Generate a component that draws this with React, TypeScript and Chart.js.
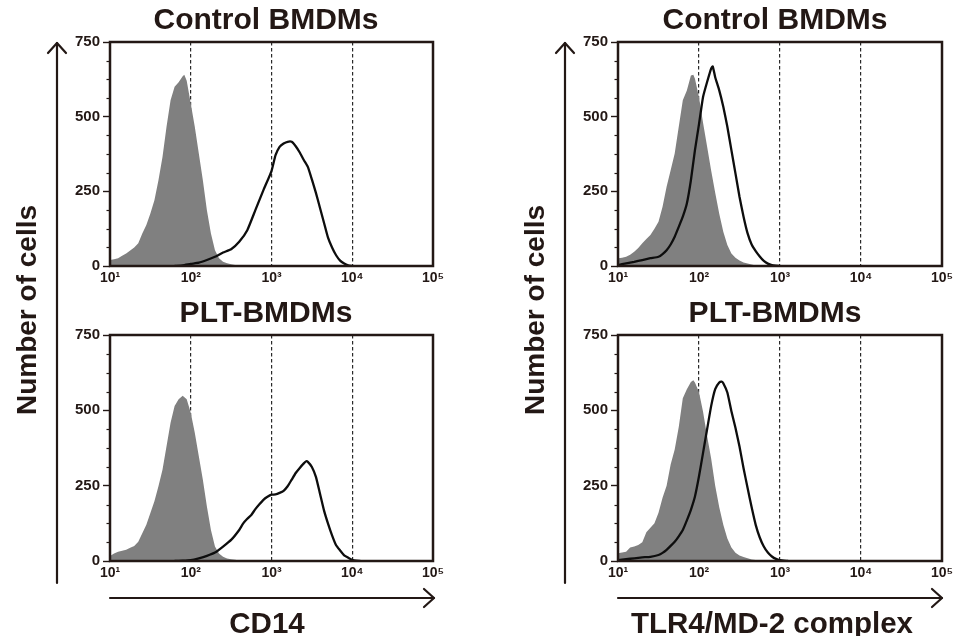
import React, { useEffect, useRef } from "react";
import { Chart, registerables } from "chart.js";

Chart.register(...registerables);

const FONT = "'Liberation Sans', Arial, Helvetica, sans-serif";
const INK = "#231815";
const GRAY = "#808080";

const panelTitles = ["Control BMDMs", "PLT-BMDMs"];
const xAxisTitles = ["CD14", "TLR4/MD-2 complex"];
const yAxisTitle = "Number of cells";

const xTickValues = [10, 100, 1000, 10000, 100000];
const xTickLabels = ["10¹", "10²", "10³", "10⁴", "10⁵"];
const guideValues = [100, 1000, 10000];
const yTickValues = [0, 250, 500, 750];
const yMinorValues = [62.5, 125, 187.5, 312.5, 375, 437.5, 562.5, 625, 687.5];

// CD14 – Control BMDMs (log10 fluorescence, cell count)
const cd14CtrlIsoLog = [1.0, 1.05, 1.1, 1.15, 1.2, 1.25, 1.3, 1.35, 1.4, 1.45, 1.5, 1.55, 1.6, 1.65, 1.7, 1.75, 1.8, 1.85, 1.9, 1.92, 1.95, 2.0, 2.05, 2.1, 2.15, 2.2, 2.25, 2.3, 2.35, 2.4, 2.45, 2.5, 2.55, 2.6, 2.65];
const cd14CtrlIsoCount = [20, 23, 26, 34, 42, 52, 62, 76, 109, 137, 176, 220, 287, 365, 466, 555, 600, 615, 635, 640, 620, 544, 466, 377, 287, 187, 109, 53, 26, 14, 9, 6, 3, 1, 0];
const cd14CtrlStainLog = [1.8, 1.9, 2.0, 2.1, 2.2, 2.3, 2.4, 2.5, 2.6, 2.7, 2.8, 2.9, 3.0, 3.05, 3.1, 3.15, 3.2, 3.25, 3.3, 3.35, 3.4, 3.45, 3.5, 3.55, 3.6, 3.65, 3.7, 3.75, 3.8, 3.85, 3.9, 3.95, 4.0];
const cd14CtrlStainCount = [0, 2, 7, 11, 20, 31, 45, 56, 81, 120, 187, 254, 318, 371, 399, 410, 416, 416, 401, 380, 355, 332, 290, 245, 195, 145, 95, 62, 36, 18, 8, 2, 0];

// CD14 – PLT-BMDMs
const cd14PltIsoLog = [1.0, 1.05, 1.1, 1.15, 1.2, 1.25, 1.3, 1.35, 1.4, 1.45, 1.5, 1.55, 1.6, 1.65, 1.7, 1.75, 1.8, 1.85, 1.9, 1.95, 2.0, 2.05, 2.1, 2.15, 2.2, 2.25, 2.3, 2.35, 2.4, 2.45, 2.5, 2.55, 2.6, 2.65];
const cd14PltIsoCount = [17, 25, 31, 34, 37, 44, 50, 64, 92, 120, 159, 198, 248, 303, 381, 459, 514, 537, 548, 537, 492, 426, 348, 270, 181, 103, 48, 25, 14, 8, 6, 4, 2, 0];
const cd14PltStainLog = [1.8, 1.9, 2.0, 2.1, 2.2, 2.3, 2.4, 2.5, 2.6, 2.65, 2.7, 2.75, 2.8, 2.85, 2.9, 2.95, 3.0, 3.05, 3.1, 3.15, 3.2, 3.25, 3.3, 3.35, 3.4, 3.43, 3.45, 3.5, 3.55, 3.6, 3.65, 3.7, 3.75, 3.8, 3.85, 3.9, 3.95, 4.0, 4.05, 4.1];
const cd14PltStainCount = [0, 1, 3, 9, 17, 28, 48, 70, 103, 125, 140, 153, 172, 188, 203, 213, 220, 221, 226, 233, 248, 270, 292, 309, 324, 331, 329, 312, 279, 224, 168, 124, 85, 52, 35, 19, 11, 4, 1, 0];

// TLR4/MD-2 – Control BMDMs
const tlrCtrlIsoLog = [1.0, 1.05, 1.1, 1.15, 1.2, 1.25, 1.3, 1.35, 1.4, 1.45, 1.5, 1.55, 1.6, 1.65, 1.7, 1.75, 1.8, 1.85, 1.9, 1.93, 1.95, 2.0, 2.05, 2.1, 2.15, 2.2, 2.25, 2.3, 2.35, 2.4, 2.45, 2.5, 2.55, 2.6, 2.65, 2.7, 2.75];
const tlrCtrlIsoCount = [26, 28, 31, 38, 48, 60, 76, 90, 104, 125, 148, 198, 265, 321, 377, 466, 555, 588, 638, 640, 627, 565, 480, 400, 320, 245, 175, 115, 70, 42, 28, 18, 12, 8, 5, 2, 0];
const tlrCtrlStainLog = [1.0, 1.1, 1.2, 1.3, 1.4, 1.5, 1.55, 1.6, 1.65, 1.7, 1.75, 1.8, 1.85, 1.9, 1.95, 2.0, 2.05, 2.1, 2.15, 2.17, 2.2, 2.25, 2.3, 2.35, 2.4, 2.45, 2.5, 2.55, 2.6, 2.65, 2.7, 2.75, 2.8, 2.85, 2.9, 2.95, 3.0];
const tlrCtrlStainCount = [3, 9, 14, 20, 26, 31, 40, 53, 72, 98, 131, 165, 209, 287, 388, 475, 566, 616, 661, 668, 632, 588, 533, 466, 388, 310, 232, 165, 109, 72, 50, 32, 17, 8, 3, 1, 0];

// TLR4/MD-2 – PLT-BMDMs
const tlrPltIsoLog = [1.0, 1.05, 1.1, 1.15, 1.2, 1.25, 1.3, 1.35, 1.4, 1.45, 1.5, 1.55, 1.6, 1.65, 1.7, 1.75, 1.8, 1.85, 1.9, 1.93, 1.95, 2.0, 2.05, 2.1, 2.15, 2.2, 2.25, 2.3, 2.35, 2.4, 2.45, 2.5, 2.55, 2.6, 2.65, 2.7, 2.75, 2.8];
const tlrPltIsoCount = [26, 28, 31, 45, 48, 53, 62, 95, 110, 125, 160, 210, 250, 320, 370, 445, 540, 570, 594, 600, 592, 560, 495, 415, 340, 250, 178, 120, 75, 45, 27, 18, 13, 9, 5, 3, 1, 0];
const tlrPltStainLog = [1.0, 1.1, 1.2, 1.3, 1.4, 1.5, 1.55, 1.6, 1.65, 1.7, 1.75, 1.8, 1.85, 1.9, 1.95, 2.0, 2.05, 2.1, 2.15, 2.2, 2.25, 2.28, 2.3, 2.35, 2.4, 2.45, 2.5, 2.55, 2.6, 2.65, 2.7, 2.75, 2.8, 2.85, 2.9, 2.95, 3.0, 3.1];
const tlrPltStainCount = [3, 6, 9, 12, 14, 20, 27, 37, 50, 64, 82, 103, 135, 170, 214, 281, 359, 437, 514, 570, 592, 595, 590, 559, 497, 442, 380, 308, 242, 178, 120, 78, 48, 28, 15, 7, 3, 0];

const toPoints = (logs: number[], counts: number[]) =>
  logs.map((l, i) => ({ x: Math.pow(10, l), y: counts[i] }));

const framePlugin = {
  id: "frameAndMinorTicks",
  afterDraw(chart: any) {
    const { ctx, chartArea: a, scales } = chart;
    ctx.save();
    ctx.strokeStyle = INK;
    ctx.lineWidth = 1.2;
    for (const v of yMinorValues) {
      const py = Math.round(scales.y.getPixelForValue(v)) + 0.5;
      ctx.beginPath();
      ctx.moveTo(a.left - 3.5, py);
      ctx.lineTo(a.left, py);
      ctx.stroke();
    }
    ctx.lineWidth = 2.5;
    ctx.strokeRect(a.left, a.top, a.right - a.left, a.bottom - a.top);
    ctx.restore();
  },
};

type PanelProps = {
  left: number;
  top: number;
  height: number;
  areaLeft: number;
  areaRight: number;
  titleCenter: number;
  title: string;
  iso: { x: number; y: number }[];
  stain: { x: number; y: number }[];
};

function Panel(p: PanelProps) {
  const ref = useRef<HTMLCanvasElement>(null);
  // canvas centred on the title; a blank right-hand axis fills the space right of the plot
  const width = 2 * (p.titleCenter - p.left);
  const yWidth = p.areaLeft - p.left;
  const rightWidth = p.left + width - p.areaRight;
  useEffect(() => {
    const chart = new Chart(ref.current as HTMLCanvasElement, {
      type: "line",
      data: {
        datasets: [
          {
            data: p.iso,
            fill: "origin",
            backgroundColor: GRAY,
            borderWidth: 0,
            borderColor: GRAY,
            pointRadius: 0,
            tension: 0,
            order: 2,
          },
          {
            data: p.stain,
            fill: false,
            borderColor: "#0d0d0d",
            borderWidth: 2.3,
            pointRadius: 0,
            tension: 0.15,
            order: 1,
          },
        ],
      },
      options: {
        animation: false,
        responsive: false,
        maintainAspectRatio: false,
        events: [],
        layout: { padding: 0 },
        plugins: {
          legend: { display: false },
          tooltip: { enabled: false },
          title: {
            display: true,
            text: p.title,
            color: INK,
            font: { family: FONT, size: 30, weight: "bold", lineHeight: 1.2 },
            padding: { top: 3, bottom: 3 },
          },
        },
        scales: {
          x: {
            type: "logarithmic",
            min: 10,
            max: 100000,
            z: 1,
            afterBuildTicks: (s: any) => {
              s.ticks = xTickValues.map((v) => ({ value: v }));
            },
            afterFit: (s: any) => {
              s.height = 24;
            },
            ticks: {
              autoSkip: false,
              maxRotation: 0,
              minRotation: 0,
              padding: 4,
              color: INK,
              font: { family: FONT, size: 14, weight: "bold" },
              callback: (v: any) => {
                const i = xTickValues.indexOf(Number(v));
                return i >= 0 ? xTickLabels[i] : "";
              },
            },
            grid: {
              drawTicks: false,
              lineWidth: 1.2,
              color: (c: any) =>
                c.tick && guideValues.includes(c.tick.value) ? "#2a2a2a" : "rgba(0,0,0,0)",
            },
            border: { display: false, dash: [3.5, 2.5] },
          },
          y: {
            type: "linear",
            position: "left",
            min: 0,
            max: 750,
            afterBuildTicks: (s: any) => {
              s.ticks = yTickValues.map((v) => ({ value: v }));
            },
            afterFit: (s: any) => {
              s.width = yWidth;
            },
            ticks: {
              padding: 3,
              color: INK,
              font: { family: FONT, size: 15, weight: "bold" },
            },
            grid: {
              drawOnChartArea: false,
              drawTicks: true,
              tickLength: 7,
              tickWidth: 1.4,
              tickColor: INK,
            },
            border: { display: false },
          },
          yRight: {
            type: "linear",
            position: "right",
            min: 0,
            max: 750,
            afterFit: (s: any) => {
              s.width = rightWidth;
            },
            ticks: { display: false },
            grid: { display: false, drawTicks: false },
            border: { display: false },
          },
        },
      } as any,
      plugins: [framePlugin],
    });
    return () => chart.destroy();
  }, []);
  return (
    <div style={{ position: "absolute", left: p.left, top: p.top, width, height: p.height }}>
      <canvas
        ref={ref}
        width={width}
        height={p.height}
        style={{ width, height: p.height, display: "block" }}
      />
    </div>
  );
}

const labelStyle: React.CSSProperties = {
  position: "absolute",
  fontFamily: FONT,
  fontWeight: "bold",
  color: INK,
  whiteSpace: "nowrap",
  lineHeight: 1,
};

export default function App() {
  const top = { top: 0, height: 290 };
  const bottom = { top: 293, height: 292 };
  const leftCol = { left: 60, areaLeft: 110, areaRight: 433, titleCenter: 266 };
  const rightCol = { left: 568, areaLeft: 618, areaRight: 942, titleCenter: 775 };
  return (
    <div
      style={{
        position: "fixed",
        left: 0,
        top: 0,
        width: 966,
        height: 636,
        background: "#ffffff",
        overflow: "hidden",
      }}
    >
      <Panel {...leftCol} {...top} title={panelTitles[0]}
        iso={toPoints(cd14CtrlIsoLog, cd14CtrlIsoCount)}
        stain={toPoints(cd14CtrlStainLog, cd14CtrlStainCount)} />
      <Panel {...leftCol} {...bottom} title={panelTitles[1]}
        iso={toPoints(cd14PltIsoLog, cd14PltIsoCount)}
        stain={toPoints(cd14PltStainLog, cd14PltStainCount)} />
      <Panel {...rightCol} {...top} title={panelTitles[0]}
        iso={toPoints(tlrCtrlIsoLog, tlrCtrlIsoCount)}
        stain={toPoints(tlrCtrlStainLog, tlrCtrlStainCount)} />
      <Panel {...rightCol} {...bottom} title={panelTitles[1]}
        iso={toPoints(tlrPltIsoLog, tlrPltIsoCount)}
        stain={toPoints(tlrPltStainLog, tlrPltStainCount)} />

      <svg width={966} height={636} style={{ position: "absolute", left: 0, top: 0 }}>
        <g stroke={INK} strokeWidth={2.2} fill="none" strokeLinecap="round" strokeLinejoin="round">
          <line x1={57} y1={583} x2={57} y2={43} />
          <polyline points="48,53 57,43 66,53" />
          <line x1={565} y1={583} x2={565} y2={43} />
          <polyline points="556,53 565,43 574,53" />
          <line x1={110} y1={598} x2={434} y2={598} />
          <polyline points="424,589 434,598 424,607" />
          <line x1={618} y1={598} x2={942} y2={598} />
          <polyline points="932,589 942,598 932,607" />
        </g>
      </svg>

      <div style={{ ...labelStyle, fontSize: 28, left: 27, top: 310, transform: "translate(-50%, -50%) rotate(-90deg)" }}>
        {yAxisTitle}
      </div>
      <div style={{ ...labelStyle, fontSize: 28, left: 535, top: 310, transform: "translate(-50%, -50%) rotate(-90deg)" }}>
        {yAxisTitle}
      </div>
      <div style={{ ...labelStyle, fontSize: 29.5, left: 267, top: 623, transform: "translate(-50%, -50%)" }}>
        {xAxisTitles[0]}
      </div>
      <div style={{ ...labelStyle, fontSize: 29.5, left: 772, top: 623, transform: "translate(-50%, -50%)" }}>
        {xAxisTitles[1]}
      </div>
    </div>
  );
}
